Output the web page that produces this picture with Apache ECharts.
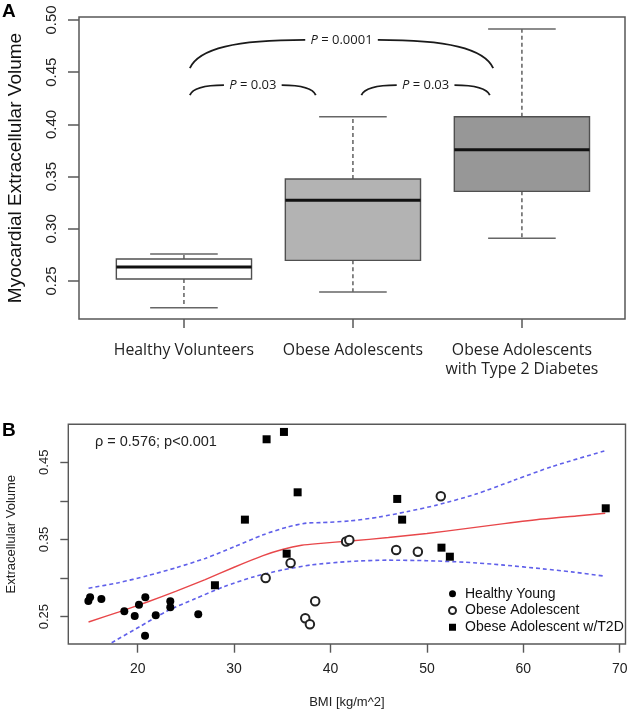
<!DOCTYPE html>
<html><head><meta charset="utf-8">
<script src="https://cdn.jsdelivr.net/npm/echarts@6/dist/echarts.min.js"></script>
<style>html,body{margin:0;padding:0;background:#fff}#c{width:627px;height:710px}</style>
</head><body><div id="c"></div>
<script>
// ---------- Panel A data ----------
const groupLabels = ['Healthy Volunteers', 'Obese Adolescents', 'Obese Adolescents\nwith Type 2 Diabetes'];
const boxMin    = [0.2244, 0.2395, 0.2909];
const boxQ1     = [0.2519, 0.2698, 0.3359];
const boxMedian = [0.2634, 0.3273, 0.3758];
const boxQ3     = [0.2711, 0.3477, 0.4074];
const boxMax    = [0.2759, 0.4074, 0.4914];
const yTicksA   = [0.25, 0.30, 0.35, 0.40, 0.45, 0.50];
const groupPos  = [1, 2, 3];
// significance brackets
const pLabels      = ['0.03', '0.03', '0.0001'];
const bracketFrom  = [1.035, 2.05, 1.035];
const bracketTo    = [1.78, 2.81, 2.83];
const bracketTop   = [0.4377, 0.4377, 0.481];
const bracketFoot  = [0.428, 0.428, 0.454];

// ---------- Panel B data ----------
const healthyBMI = [14.88, 15.06, 16.23, 18.61, 19.69, 20.13, 20.79, 20.76, 21.87, 23.38, 23.38, 26.28];
const healthyECV = [0.2703, 0.2751, 0.2729, 0.2570, 0.2509, 0.2656, 0.2751, 0.2254, 0.2518, 0.2700, 0.2622, 0.2531];
const obeseBMI = [33.27, 35.86, 38.41, 37.38, 37.86, 41.62, 41.95, 46.81, 49.06, 51.44];
const obeseECV = [0.3000, 0.3196, 0.2700, 0.2480, 0.2402, 0.3474, 0.3494, 0.3364, 0.3342, 0.4060];
const t2dBMI = [28.01, 31.12, 33.37, 35.17, 35.45, 36.59, 46.92, 47.43, 51.51, 52.38, 68.55];
const t2dECV = [0.2907, 0.3757, 0.4798, 0.4893, 0.3316, 0.4111, 0.4025, 0.3757, 0.3394, 0.3277, 0.3904];
const fitBMI = [14.9, 18, 21, 24, 27, 30, 33, 35, 37, 39, 42, 46, 50, 54, 58, 62, 65.5, 68.5];
const fitECV = [0.2431, 0.2560, 0.2690, 0.2830, 0.2980, 0.3140, 0.3290, 0.3370, 0.3425, 0.3450, 0.3480, 0.3525, 0.3578, 0.3640, 0.3705, 0.3765, 0.3805, 0.3839];
const upperBMI = [14.9, 18, 21, 24, 27, 30, 33, 35.5, 37.5, 39, 42, 45, 48, 51, 55, 59, 63, 68.5];
const upperECV = [0.2868, 0.2940, 0.3030, 0.3135, 0.3255, 0.3405, 0.3560, 0.3660, 0.3712, 0.3718, 0.3740, 0.3790, 0.3862, 0.3945, 0.4085, 0.4265, 0.4445, 0.4650];
const lowerBMI = [17.3, 20.2, 23, 26, 29, 32, 35, 38, 42, 46, 50, 54, 58, 62, 65, 68.3];
const lowerECV = [0.2163, 0.2370, 0.2570, 0.2735, 0.2890, 0.3015, 0.3105, 0.3170, 0.3215, 0.3232, 0.3225, 0.3205, 0.3168, 0.3120, 0.3080, 0.3027];
const xTicksB = [20, 30, 40, 50, 60, 70];
const yTicksB = [0.25, 0.30, 0.35, 0.40, 0.45];
const yLabelsB = [0.25, 0.35, 0.45];
const corrText = 'ρ = 0.576; p<0.001';

// ---------- styles ----------
const boxFills = ['#ffffff', '#b3b3b3', '#979797'];
const HELV = '"Liberation Sans", Arial, sans-serif';
const CAL = '"Open Sans", sans-serif';
const frameColor = '#585858';

const zip = (a, b) => a.map((v, i) => [v, b[i]]);

const boxData = groupPos.map((p, i) => [p, boxMin[i], boxQ1[i], boxMedian[i], boxQ3[i], boxMax[i]]);
const bracketData = pLabels.map((_, i) => [bracketFrom[i], bracketTo[i], bracketTop[i], bracketFoot[i]]);

const measureCtx = document.createElement('canvas').getContext('2d');
function textW(t, font) { measureCtx.font = font; return measureCtx.measureText(t).width; }

function renderBox(params, api) {
  const x = api.value(0);
  const i = params.dataIndex;
  const hw = api.size([0.4, 0])[0];
  const cw = api.size([0.2, 0])[0];
  const pMin = api.coord([x, api.value(1)]);
  const pQ1 = api.coord([x, api.value(2)]);
  const pMed = api.coord([x, api.value(3)]);
  const pQ3 = api.coord([x, api.value(4)]);
  const pMax = api.coord([x, api.value(5)]);
  const cx = pMed[0];
  const whisk = { stroke: '#555', lineWidth: 1.4, lineDash: [4, 3], fill: 'none' };
  const cap = { stroke: '#666', lineWidth: 1.6, fill: 'none' };
  return { type: 'group', children: [
    { type: 'line', shape: { x1: cx, y1: pQ3[1], x2: cx, y2: pMax[1] }, style: whisk },
    { type: 'line', shape: { x1: cx, y1: pQ1[1], x2: cx, y2: pMin[1] }, style: whisk },
    { type: 'line', shape: { x1: cx - cw, y1: pMax[1], x2: cx + cw, y2: pMax[1] }, style: cap },
    { type: 'line', shape: { x1: cx - cw, y1: pMin[1], x2: cx + cw, y2: pMin[1] }, style: cap },
    { type: 'rect', shape: { x: cx - hw, y: pQ3[1], width: 2 * hw, height: pQ1[1] - pQ3[1] },
      style: { fill: boxFills[i], stroke: '#505050', lineWidth: 1.4 } },
    { type: 'line', shape: { x1: cx - hw, y1: pMed[1], x2: cx + hw, y2: pMed[1] },
      style: { stroke: '#111', lineWidth: 3, fill: 'none' } }
  ]};
}

function renderBracket(params, api) {
  const a = api.coord([api.value(0), api.value(3)]);
  const b = api.coord([api.value(1), api.value(3)]);
  const yt = api.coord([api.value(0), api.value(2)])[1];
  const cx = (a[0] + b[0]) / 2;
  const lbl = 'P = ' + pLabels[params.dataIndex];
  const gap = textW(lbl, '13px "Open Sans"') / 2 + 5;
  const h = a[1] - yt;
  const sL = (cx - gap) - a[0];
  const sR = b[0] - (cx + gap);
  const st = { stroke: '#1a1a1a', lineWidth: 1.8, fill: 'none' };
  return { type: 'group', children: [
    { type: 'bezierCurve', shape: { x1: a[0], y1: a[1], cpx1: a[0] + 0.08 * sL, cpy1: yt + 0.3 * h,
        cpx2: a[0] + 0.4 * sL, cpy2: yt, x2: cx - gap, y2: yt }, style: st },
    { type: 'bezierCurve', shape: { x1: cx + gap, y1: yt, cpx1: b[0] - 0.4 * sR, cpy1: yt,
        cpx2: b[0] - 0.08 * sR, cpy2: yt + 0.3 * h, x2: b[0], y2: b[1] }, style: st },
    { type: 'text', x: cx, y: yt, style: {
        text: '{i|P} = ' + pLabels[params.dataIndex],
        rich: { i: { fontStyle: 'italic', fontFamily: CAL, fontSize: 13, fill: '#1a1a1a' } },
        fontFamily: CAL, fontSize: 13, fill: '#1a1a1a', align: 'center', verticalAlign: 'middle' } }
  ]};
}

const chart = echarts.init(document.getElementById('c'), null, { renderer: 'canvas' });
chart.setOption({
  animation: false,
  backgroundColor: '#fff',
  title: [
    { text: 'A', left: 2, top: 2, padding: 0, textStyle: { fontFamily: HELV, fontSize: 19, fontWeight: 'bold', color: '#000' } },
    { text: 'B', left: 2, top: 421, padding: 0, textStyle: { fontFamily: HELV, fontSize: 19, fontWeight: 'bold', color: '#000' } },
    { text: corrText, left: 95, top: 434.5, padding: 0, textStyle: { fontFamily: HELV, fontSize: 14.5, fontWeight: 'normal', color: '#222' } }
  ],
  legend: {
    data: [
      { name: 'Healthy Young', icon: 'circle' },
      { name: 'Obese Adolescent', icon: 'emptyCircle' },
      { name: 'Obese Adolescent w/T2D', icon: 'rect' }
    ],
    orient: 'vertical', left: 448, top: 585.5, padding: 0, itemGap: 0,
    itemWidth: 7, itemHeight: 7, selectedMode: false,
    itemStyle: { borderWidth: 1 },
    textStyle: { fontFamily: HELV, fontSize: 14, color: '#111', lineHeight: 16.7, padding: [0, 0, 0, 4] }
  },
  grid: [
    { left: 79, right: 2, top: 17, bottom: 391, show: true, borderColor: frameColor, borderWidth: 1.5, outerBoundsMode: 'none' },
    { left: 68.3, right: 1.5, top: 424.3, bottom: 66, show: true, borderColor: frameColor, borderWidth: 1.4, outerBoundsMode: 'none' }
  ],
  xAxis: [
    { gridIndex: 0, type: 'value', min: 0.379, max: 3.61,
      axisLine: { show: false }, splitLine: { show: false },
      axisTick: { show: true, customValues: groupPos, length: 9, lineStyle: { color: frameColor, width: 1.5 } },
      axisLabel: { show: true, customValues: groupPos, margin: 22, fontFamily: CAL, fontSize: 15.8, lineHeight: 19, color: '#222',
        formatter: v => groupLabels[Math.round(v) - 1] } },
    { gridIndex: 1, type: 'value', min: 12.8, max: 70.6,
      axisLine: { show: false }, splitLine: { show: false },
      axisTick: { show: true, customValues: xTicksB, length: 8.7, lineStyle: { color: frameColor, width: 1.4 } },
      axisLabel: { show: true, customValues: xTicksB, margin: 18.5, fontFamily: HELV, fontSize: 14, color: '#222' },
      name: 'BMI [kg/m^2]', nameLocation: 'middle', nameGap: 51.5,
      nameTextStyle: { fontFamily: HELV, fontSize: 13, color: '#222' } }
  ],
  yAxis: [
    { gridIndex: 0, type: 'value', min: 0.2136, max: 0.5029,
      axisLine: { show: false }, splitLine: { show: false },
      axisTick: { show: true, customValues: yTicksA, length: 11, lineStyle: { color: frameColor, width: 1.5 } },
      axisLabel: { show: true, customValues: yTicksA, rotate: 90, margin: 19.5, fontFamily: HELV, fontSize: 15, color: '#222',
        formatter: v => v.toFixed(2) },
      name: 'Myocardial Extracellular Volume', nameLocation: 'middle', nameGap: 54, nameRotate: 90,
      nameTextStyle: { fontFamily: HELV, fontSize: 19, color: '#111' } },
    { gridIndex: 1, type: 'value', min: 0.2146, max: 0.4992,
      axisLine: { show: false }, splitLine: { show: false },
      axisTick: { show: true, customValues: yTicksB, length: 8, lineStyle: { color: frameColor, width: 1.4 } },
      axisLabel: { show: true, customValues: yLabelsB, rotate: 90, margin: 17.6, fontFamily: HELV, fontSize: 13, color: '#222',
        formatter: v => v.toFixed(2) },
      name: 'Extracellular Volume', nameLocation: 'middle', nameGap: 50, nameRotate: 90,
      nameTextStyle: { fontFamily: HELV, fontSize: 13, color: '#222' } }
  ],
  series: [
    { type: 'custom', xAxisIndex: 0, yAxisIndex: 0, renderItem: renderBox, data: boxData,
      encode: { x: 0, y: [1, 2, 3, 4, 5] }, silent: true },
    { type: 'custom', xAxisIndex: 0, yAxisIndex: 0, renderItem: renderBracket, data: bracketData,
      encode: { x: [0, 1], y: [2, 3] }, silent: true },
    { type: 'line', name: 'fit', xAxisIndex: 1, yAxisIndex: 1, data: zip(fitBMI, fitECV), showSymbol: false, symbol: 'none',
      smooth: 0.25, lineStyle: { color: '#e8474a', width: 1.4 }, z: 2 },
    { type: 'line', name: 'upper', xAxisIndex: 1, yAxisIndex: 1, data: zip(upperBMI, upperECV), showSymbol: false, symbol: 'none',
      smooth: 0.25, lineStyle: { color: '#6060ea', width: 1.6, type: [4, 3] }, z: 2 },
    { type: 'line', name: 'lower', xAxisIndex: 1, yAxisIndex: 1, data: zip(lowerBMI, lowerECV), showSymbol: false, symbol: 'none',
      smooth: 0.25, lineStyle: { color: '#6060ea', width: 1.6, type: [4, 3] }, z: 2 },
    { type: 'scatter', name: 'Healthy Young', xAxisIndex: 1, yAxisIndex: 1, data: zip(healthyBMI, healthyECV),
      symbol: 'circle', symbolSize: 8, itemStyle: { color: '#000', opacity: 1 }, z: 3 },
    { type: 'scatter', name: 'Obese Adolescent', xAxisIndex: 1, yAxisIndex: 1, data: zip(obeseBMI, obeseECV),
      symbol: 'emptyCircle', symbolSize: 8.5, itemStyle: { color: '#222', borderColor: '#222', borderWidth: 1.1, opacity: 1 }, z: 3 },
    { type: 'scatter', name: 'Obese Adolescent w/T2D', xAxisIndex: 1, yAxisIndex: 1, data: zip(t2dBMI, t2dECV),
      symbol: 'rect', symbolSize: 8, itemStyle: { color: '#000', opacity: 1 }, z: 3 }
  ]
});
</script>
</body></html>
